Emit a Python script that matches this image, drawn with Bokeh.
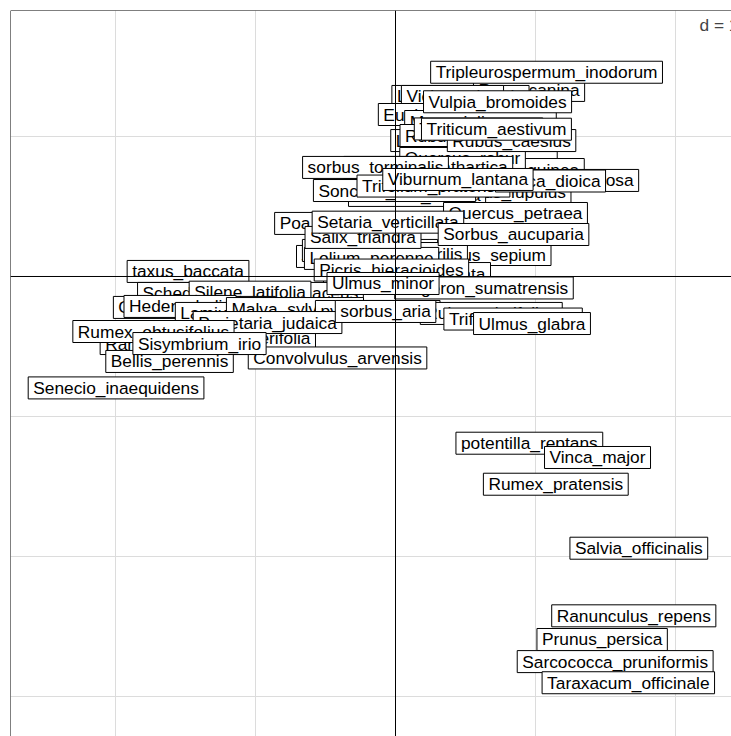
from bokeh.plotting import figure
from bokeh.models import ColumnDataSource, Span, FixedTicker, Label, Range1d
from bokeh.core.properties import value
from bokeh.embed import file_html
from bokeh.resources import INLINE

# species labels, in drawing order (later ones on top)
species = [
    "Rosa_canina", "Lactuca_serriola", "Vicia_sativa", "Euphorbia_peplus",
    "Mercurialis_annua", "Ligustrum_vulgare", "Rubus_fruticosus", "Torilis_japonica",
    "Tripleurospermum_inodorum", "Vulpia_bromoides", "Fragaria_vesca", "Cornus_sanguinea",
    "Quercus_robur", "Rubus_caesius", "Triticum_aestivum", "Rhamnus_cathartica",
    "sorbus_torminalis", "Humulus_lupulus", "Clematis_vitalba", "Sonchus_oleraceus",
    "Trifolium_pratense", "Rumex_acetosa", "Urtica_dioica", "Viburnum_lantana",
    "Quercus_petraea", "Poa_trivialis", "Juglans_regia", "Geum_urbanum",
    "Convolvulus_sepium", "Bromus_sterilis", "Lolium_perenne", "Salix_triandra",
    "Setaria_verticillata", "Sorbus_aucuparia", "Plantago_lanceolata", "Picris_hieracioides",
    "Erigeron_sumatrensis", "taxus_baccata", "Schedonorus_arundinaceus", "Silene_latifolia",
    "Ulmus_minor", "Chelidonium_majus", "Hedera_helix", "Lamium_album",
    "Malva_sylvestris", "pyrus_pyraster", "Rubus_ulmifolius", "Trifolium_repens",
    "Ulmus_glabra", "Veronica_hederifolia", "Parietaria_judaica", "sorbus_aria",
    "Ranunculus_acris", "Rumex_obtusifolius", "Bellis_perennis", "Convolvulus_arvensis",
    "Sisymbrium_irio", "Senecio_inaequidens", "potentilla_reptans", "Vinca_major",
    "Rumex_pratensis", "Salvia_officinalis", "Prunus_persica", "Ranunculus_repens",
    "Sarcococca_pruniformis", "Taraxacum_officinale",
]
axis1 = [
    0.954, 0.464, 0.407, 0.412,
    0.607, 0.511, 0.546, 0.593,
    1.079, 0.729, 0.693, 0.793,
    0.479, 0.829, 0.721, 0.234,
    -0.143, 0.743, 0.154, -0.007,
    0.271, 1.254, 1.107, 0.446,
    0.857, -0.494, -0.286, -0.182,
    0.504, 0.055, -0.171, -0.232,
    -0.054, 0.843, 0.082, -0.029,
    0.632, -1.482, -1.036, -1.039,
    -0.089, -1.436, -1.539, -1.114,
    -0.718, -0.127, 0.684, 0.840,
    0.975, -1.168, -0.914, -0.071,
    -1.582, -1.729, -1.614, -0.414,
    -1.400, -1.996, 0.956, 1.443,
    1.145, 1.738, 1.476, 1.702,
    1.569, 1.663,
]
axis2 = [
    1.329, 1.286, 1.286, 1.157,
    1.107, 0.971, 1.007, 1.054,
    1.459, 1.248, 0.814, 0.764,
    0.843, 0.971, 1.052, 0.779,
    0.779, 0.600, 0.579, 0.614,
    0.646, 0.686, 0.682, 0.693,
    0.450, 0.379, 0.143, 0.186,
    0.157, 0.164, 0.129, 0.279,
    0.388, 0.300, 0.021, 0.046,
    -0.082, 0.036, -0.121, -0.112,
    -0.050, -0.221, -0.214, -0.264,
    -0.229, -0.250, -0.264, -0.304,
    -0.336, -0.436, -0.329, -0.250,
    -0.479, -0.393, -0.607, -0.582,
    -0.479, -0.796, -1.191, -1.293,
    -1.484, -1.941, -2.593, -2.424,
    -2.751, -2.902,
]

grid_x = [-2, -1, 1, 2]
grid_y = [-3, -2, -1, 1]
x_limits = (-2.75, 2.4)
y_limits = (-3.286, 1.9)
scale_text = "d = 1"
scale_pos = (2.171, 1.793)

src = ColumnDataSource(dict(x=axis1, y=axis2, name=species))

p = figure(width=731, height=736, output_backend="svg", toolbar_location=None,
           title=None,
           x_range=Range1d(*x_limits), y_range=Range1d(*y_limits),
           x_axis_location=None, y_axis_location=None,
           min_border_left=10, min_border_top=10, min_border_right=0, min_border_bottom=0)
p.outline_line_color = None
p.background_fill_color = "white"
p.border_fill_color = "white"

p.xgrid.ticker = FixedTicker(ticks=grid_x)
p.ygrid.ticker = FixedTicker(ticks=grid_y)
p.xgrid.grid_line_color = "#DCDCDC"
p.ygrid.grid_line_color = "#DCDCDC"
p.xgrid.grid_line_width = 1
p.ygrid.grid_line_width = 1

# frame edges (left, top) and the axes through the origin
p.add_layout(Span(location=x_limits[0], dimension="height", line_color="black", line_width=1))
p.add_layout(Span(location=y_limits[1], dimension="width", line_color="black", line_width=1))
p.add_layout(Span(location=0, dimension="height", line_color="black", line_width=1))
p.add_layout(Span(location=0, dimension="width", line_color="black", line_width=1))

p.text(x="x", y="y", text="name", source=src,
       text_font=value("Liberation Sans"), text_font_size="13pt", text_color="black",
       text_align="center", text_baseline="middle",
       background_fill_color="white", border_line_color="black", border_line_width=1,
       padding=dict(left=5, right=5, top=1, bottom=1))

p.add_layout(Label(x=scale_pos[0], y=scale_pos[1], text=scale_text,
                   text_font="Liberation Sans", text_font_size="13pt",
                   text_align="left", text_baseline="middle",
                   background_fill_color="white"))

open("out.html", "w").write(file_html(p, INLINE))
